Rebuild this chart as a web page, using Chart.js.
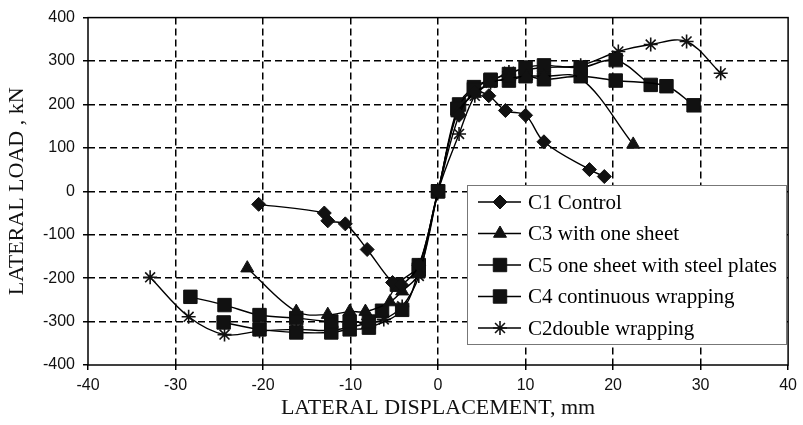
<!DOCTYPE html>
<html>
<head>
<meta charset="utf-8">
<script src="https://cdn.jsdelivr.net/npm/chart.js@4/dist/chart.umd.min.js"></script>
<style>
  html, body { margin: 0; padding: 0; background: #fff; }
</style>
</head>
<body>
<canvas id="chart" width="803" height="425"></canvas>
<script>
// values (displacement mm, load kN)
const c1X = [-20.5, -13, -12.6, -10.6, -8.1, -5.2, -4.2, -2.2, 0, 2.4, 4.2, 5.8, 7.7, 10, 12.1, 17.3, 19];
const c1Y = [-30, -50, -68, -75, -134, -210, -215, -170, 0, 175, 228, 220, 186, 175, 114, 50, 34];

const c3X = [-21.8, -16.2, -12.6, -10.1, -8.3, -5.5, -4.1, -2.2, 0, 2.2, 4.2, 6, 8.1, 10.1, 12.1, 16.3, 22.3];
const c3Y = [-177, -277, -284, -277, -277, -255, -230, -190, 0, 180, 225, 250, 260, 265, 265, 260, 108];

const c5X = [-28.3, -24.4, -20.4, -16.2, -12.2, -10.1, -7.9, -6.4, -4.7, -2.2, 0, 2.2, 4.1, 6, 8.1, 10, 12.1, 16.3, 20.3, 26.1, 29.2];
const c5Y = [-243, -262, -285, -292, -300, -300, -300, -275, -215, -170, 0, 190, 235, 255, 255, 265, 258, 265, 255, 242, 198];

const c4X = [-24.5, -20.4, -16.2, -12.2, -10.1, -7.9, -4.1, -2.2, 0, 2.4, 4.1, 6, 8.1, 10, 12.1, 16.3, 20.3, 24.3];
const c4Y = [-302, -318, -325, -325, -318, -314, -273, -180, 0, 200, 240, 257, 270, 285, 290, 285, 302, 245];

const c2X = [-32.9, -28.5, -24.4, -20.4, -16.2, -12.2, -8.2, -6.2, -4.1, -2.2, 0, 2.4, 4.2, 6, 8.1, 10, 12.1, 16.3, 20.6, 24.3, 28.4, 32.3];
const c2Y = [-198, -289, -330, -322, -318, -320, -305, -295, -265, -195, 0, 132, 220, 250, 275, 280, 285, 290, 322, 338, 345, 272];

const seriesNames = ['C1 Control', 'C3 with one sheet', 'C5 one sheet with steel plates', 'C4 continuous wrapping', 'C2double wrapping'];

function pts(xs, ys) {
    return xs.map((x, i) => ({ x: x, y: ys[i] }));
}

function makeSet(label, xs, ys, style, radius) {
    return {
        label: label,
        data: pts(xs, ys),
        borderColor: '#000',
        backgroundColor: '#000',
        borderWidth: 1.4,
        tension: 0.35,
        pointStyle: style,
        pointRadius: radius,
        pointHoverRadius: radius,
        pointBackgroundColor: '#111',
        pointBorderColor: '#111',
        pointBorderWidth: style === 'star' ? 1.6 : 1
    };
}

// solid frame round the plot area
const framePlugin = {
    id: 'frame',
    beforeDatasetsDraw(chart) {
        const a = chart.chartArea;
        const ctx = chart.ctx;
        ctx.save();
        ctx.strokeStyle = '#000';
        ctx.lineWidth = 1.5;
        ctx.strokeRect(a.left, a.top, a.right - a.left, a.bottom - a.top);
        ctx.restore();
    }
};

// legend box sitting inside the plot, lower right
const boxLegend = {
    id: 'boxLegend',
    afterDraw(chart) {
        const ctx = chart.ctx;
        const x0 = 467, y0 = 185, w = 319, h = 159;
        ctx.save();
        ctx.fillStyle = '#fff';
        ctx.fillRect(x0, y0, w, h);
        ctx.strokeStyle = '#777';
        ctx.lineWidth = 1;
        ctx.strokeRect(x0 + 0.5, y0 + 0.5, w, h);
        ctx.font = "21px 'Liberation Serif', 'Times New Roman', serif";
        ctx.textBaseline = 'middle';
        chart.data.datasets.forEach((ds, i) => {
            const y = 202 + i * 31.5;
            ctx.strokeStyle = '#000';
            ctx.lineWidth = 1.4;
            ctx.beginPath();
            ctx.moveTo(478, y);
            ctx.lineTo(521, y);
            ctx.stroke();
            ctx.fillStyle = '#111';
            ctx.strokeStyle = '#111';
            ctx.lineWidth = ds.pointBorderWidth;
            Chart.helpers.drawPoint(ctx, {
                pointStyle: ds.pointStyle,
                radius: ds.pointRadius,
                rotation: 0,
                borderWidth: ds.pointBorderWidth
            }, 500, y);
            ctx.fillStyle = '#000';
            ctx.fillText(ds.label, 528, y + 1);
        });
        ctx.restore();
    }
};

const edgeX = ctx => (ctx.tick && Math.abs(ctx.tick.value) === 40) ? 'rgba(0,0,0,0)' : '#000';
const edgeY = ctx => (ctx.tick && Math.abs(ctx.tick.value) === 400) ? 'rgba(0,0,0,0)' : '#000';

const tickFont = { family: "'Liberation Sans', Arial, sans-serif", size: 16 };
const titleFont = { family: "'Liberation Serif', 'Times New Roman', serif", size: 22 };

new Chart(document.getElementById('chart'), {
    type: 'line',
    data: {
        datasets: [
            makeSet(seriesNames[0], c1X, c1Y, 'rectRot', 7),
            makeSet(seriesNames[1], c3X, c3Y, 'triangle', 7.5),
            makeSet(seriesNames[2], c5X, c5Y, 'rect', 9.5),
            makeSet(seriesNames[3], c4X, c4Y, 'rect', 9.5),
            makeSet(seriesNames[4], c2X, c2Y, 'star', 7)
        ]
    },
    options: {
        responsive: false,
        animation: false,
        devicePixelRatio: 1,
        layout: { padding: { top: 14, right: 14, left: 0, bottom: 0 } },
        plugins: {
            legend: { display: false },
            tooltip: { enabled: false }
        },
        scales: {
            x: {
                type: 'linear',
                min: -40,
                max: 40,
                afterFit(scale) { scale.height = 60; },
                ticks: { stepSize: 10, color: '#111', font: tickFont, padding: 6 },
                grid: { color: edgeX, lineWidth: 1.5, tickColor: '#000', tickLength: 5, tickBorderDash: [] },
                border: { display: false, dash: [7, 4] },
                title: { display: true, text: 'LATERAL DISPLACEMENT, mm', color: '#111', font: titleFont, padding: { top: 0, bottom: 4 } }
            },
            y: {
                min: -400,
                max: 400,
                afterFit(scale) { scale.width = 88; },
                ticks: { stepSize: 100, color: '#111', font: tickFont, padding: 8 },
                grid: { color: edgeY, lineWidth: 1.5, tickColor: '#000', tickLength: 5, tickBorderDash: [] },
                border: { display: false, dash: [7, 4] },
                title: { display: true, text: 'LATERAL LOAD , kN', color: '#111', font: titleFont, padding: { top: 4, bottom: 0 } }
            }
        }
    },
    plugins: [framePlugin, boxLegend]
});
</script>
</body>
</html>
